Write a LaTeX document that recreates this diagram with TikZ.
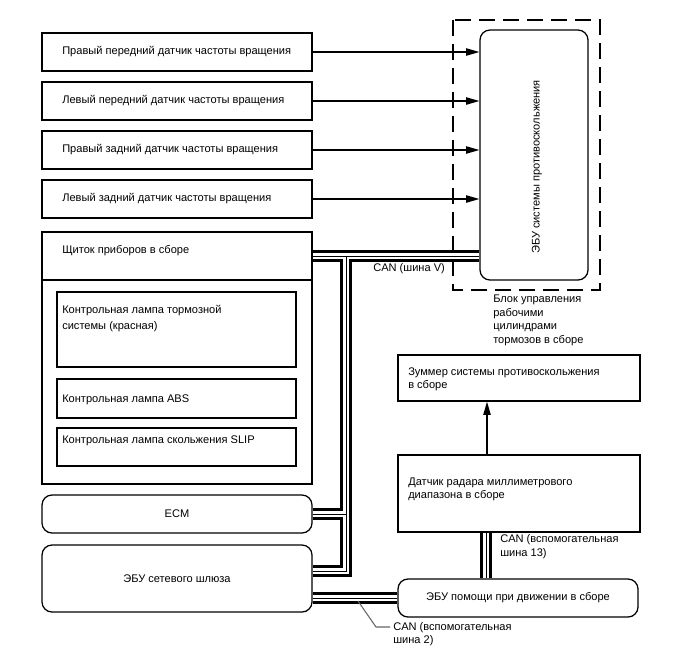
\documentclass[tikz,border=0pt]{standalone}
\usepackage{fontspec}
\setmainfont{Liberation Sans}
\usetikzlibrary{arrows.meta,calc,positioning}
\newlength{\pxu}
\setlength{\pxu}{0.75pt}

\begin{document}
\begin{tikzpicture}[x=0.75pt,y=-0.75pt, >={Triangle[length=10pt,width=5.5pt]},
  every node/.style={font=\fontsize{8.3}{10.1}\selectfont},
  box/.style={draw,line width=0.95pt,minimum width=270*\pxu,minimum height=38*\pxu,inner sep=0pt},
  rbox/.style={box,rounded corners=7.5pt},
  lbl/.style={inner sep=0pt},
  brakeunit/.style={draw,line width=1.1pt,dash pattern=on 12pt off 6pt},
  busout/.style={line width=8.6pt,black},
  busin/.style={line width=4.8pt,white},
  busmid/.style={line width=0.65pt,black}]
\useasboundingbox (0,0) rectangle (688,658);

\node[box] (s1) at (177,52) {};
\node[lbl,anchor=west] (s1t) at (62,52) {Правый передний датчик частоты вращения};
\node[box] (s2) at (177,101) {};
\node[lbl,anchor=west] (s2t) at (62,101) {Левый передний датчик частоты вращения};
\node[box] (s3) at (177,150) {};
\node[lbl,anchor=west] (s3t) at (62,150) {Правый задний датчик частоты вращения};
\node[box] (s4) at (177,199) {};
\node[lbl,anchor=west] (s4t) at (62,199) {Левый задний датчик частоты вращения};

\node[box,minimum height=48*\pxu] (clhead) at (177,256) {};
\node[box,minimum height=204*\pxu] (clbody) at (177,382) {};
\node[lbl,anchor=west] (clt) at (62,251) {Щиток приборов в сборе};
\node[box,minimum width=239*\pxu,minimum height=75*\pxu] (lampa) at (176.5,329.5) {};
\node[lbl,anchor=west,align=left] (lampat) at (62,319) {Контрольная лампа тормозной\\[1.9pt]системы (красная)};
\node[box,minimum width=239*\pxu,minimum height=39*\pxu] (lampb) at (176.5,398.5) {};
\node[lbl,anchor=west] (lampbt) at (62,400) {Контрольная лампа ABS};
\node[box,minimum width=239*\pxu] (lampc) at (176.5,447) {};
\node[lbl,anchor=west] (lampct) at (62,441) {Контрольная лампа скольжения SLIP};

\node[rbox] (ecm) at (177,514) {ECM};
\node[rbox,minimum height=67*\pxu] (gw) at (177,578.5) {ЭБУ сетевого шлюза};

\node[rbox,minimum width=108*\pxu,minimum height=250*\pxu] (ecu) at (534,155) {};
\node[lbl,rotate=90] (ecut) at (537,167) {ЭБУ системы противоскольжения};
\draw[brakeunit] (453,20) rectangle (600,290);
\node[lbl,anchor=west,align=left] (bu) at (493,320.5) {Блок управления\\рабочими\\цилиндрами\\тормозов в сборе};

\node[box,minimum width=242*\pxu,minimum height=46*\pxu] (buzz) at (519,378) {};
\node[lbl,anchor=west,align=left] (buzzt) at (408,379.5) {Зуммер системы противоскольжения\\в сборе};
\node[box,minimum width=242*\pxu,minimum height=77*\pxu] (radar) at (519,493.5) {};
\node[lbl,anchor=west,align=left] (radart) at (408,489.5) {Датчик радара миллиметрового\\диапазона в сборе};
\node[rbox,minimum width=240*\pxu] (assist) at (518,598) {ЭБУ помощи при движении в сборе};

\node[lbl,anchor=west] (canv) at (373,269) {CAN (шина V)};
\node[lbl,anchor=west,align=left] (can13) at (500,546.5) {CAN (вспомогательная\\шина 13)};
\node[lbl,anchor=west,align=left] (can2) at (393,634) {CAN (вспомогательная\\шина 2)};

% sensor lines
\draw[->,line width=0.95pt] (s1.east) -- (s1.east -| ecu.west);
\draw[->,line width=0.95pt] (s2.east) -- (s2.east -| ecu.west);
\draw[->,line width=0.95pt] (s3.east) -- (s3.east -| ecu.west);
\draw[->,line width=0.95pt] (s4.east) -- (s4.east -| ecu.west);
\coordinate (rb) at (487,0);
\draw[->,line width=0.95pt] (radar.north -| rb) -- (buzz.south -| rb);

% CAN buses
\coordinate (tr) at (346,0);
\coordinate (cb) at (486,0);
\coordinate (gwa) at ($(gw.east)+(0,-7.5)$);
\foreach \sty in {busout,busin,busmid}{
  \draw[\sty] (clhead.east) -- (ecu.west |- clhead.east);
  \draw[\sty] (clhead.east -| tr) -- (gwa -| tr) -- (gwa);
  \draw[\sty] (ecm.east) -- (ecm.east -| tr);
  \draw[\sty] (gw.east |- assist.west) -- (assist.west);
  \draw[\sty] (radar.south -| cb) -- (assist.north -| cb);
}
\coordinate (c2tip) at (358,601);
\draw[black!60,line width=0.8pt] (c2tip) -- ++(18,26) -- ++(14,0);
\end{tikzpicture}
\end{document}
